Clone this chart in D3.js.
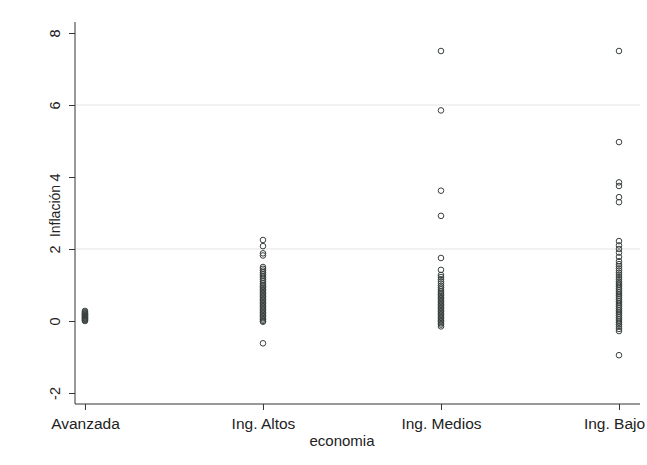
<!DOCTYPE html>
<html>
<head>
<meta charset="utf-8">
<script src="https://cdn.jsdelivr.net/npm/d3@7/dist/d3.min.js"></script>
<style>
  body { margin: 0; background: #fff; }
  text { font-family: "Liberation Sans", Arial, sans-serif; fill: #222; }
</style>
</head>
<body>
<div id="chart"></div>
<script>
// categories on the x axis
const categories = ['Avanzada', 'Ing. Altos', 'Ing. Medios', 'Ing. Bajo'];
const yTicks = [-2, 0, 2, 4, 6, 8];
const gridTicks = [2, 6];

const avanzada = [0.0, 0.02, 0.04, 0.06, 0.08, 0.1, 0.12, 0.14, 0.16, 0.18, 0.2, 0.22, 0.25, 0.28];
const ingAltos = [2.25, 2.08, 1.88, 1.82, 1.5, 1.45, 1.4, 1.35, 1.3, 1.25, 1.2, 1.15, 1.1, 1.05, 1.0,
  0.96, 0.92, 0.88, 0.84, 0.8, 0.76, 0.72, 0.68, 0.64, 0.6, 0.56, 0.52, 0.48, 0.44, 0.4, 0.36,
  0.32, 0.28, 0.24, 0.2, 0.16, 0.12, 0.08, 0.04, 0.0, -0.02, -0.62];
const ingMedios = [7.5, 5.85, 3.62, 2.92, 1.75, 1.42, 1.28, 1.22, 1.16, 1.1, 1.04, 0.98, 0.93, 0.88,
  0.83, 0.78, 0.74, 0.7, 0.66, 0.62, 0.58, 0.54, 0.5, 0.46, 0.42, 0.38, 0.34, 0.3, 0.26, 0.22,
  0.18, 0.14, 0.1, 0.06, 0.02, -0.02, -0.06, -0.1, -0.15];
const ingBajo = [7.5, 4.97, 3.85, 3.75, 3.44, 3.3, 2.22, 2.1, 2.0, 1.9, 1.78, 1.66, 1.58, 1.52, 1.46,
  1.4, 1.34, 1.28, 1.22, 1.16, 1.1, 1.05, 1.0, 0.95, 0.9, 0.85, 0.8, 0.75, 0.7, 0.65, 0.6, 0.55,
  0.5, 0.45, 0.4, 0.35, 0.3, 0.25, 0.2, 0.15, 0.1, 0.05, 0.0, -0.05, -0.1, -0.16, -0.22, -0.28, -0.95];
const series = [avanzada, ingAltos, ingMedios, ingBajo];

const W = 647, H = 465;
const svg = d3.select('#chart').append('svg')
  .attr('width', W).attr('height', H);

const x = d3.scaleLinear().domain([0.944, 4.118]).range([75, 640]);
const y = d3.scaleLinear().domain([-2.306, 8.306]).range([404, 22]);

// grid lines
svg.append('g').selectAll('line')
  .data(gridTicks).enter().append('line')
  .attr('x1', 76).attr('x2', 640)
  .attr('y1', d => y(d)).attr('y2', d => y(d))
  .attr('stroke', '#e4e4e4').attr('stroke-width', 1);

// y axis
const yAxis = d3.axisLeft(y).tickValues(yTicks).tickSize(6).tickPadding(0).tickFormat(d => String(d));
const gy = svg.append('g').attr('transform', 'translate(75,0)').call(yAxis);
gy.select('.domain').attr('d', 'M0,' + y.range()[1] + 'V' + y.range()[0]).attr('stroke', '#333');
gy.selectAll('.tick line').attr('stroke', '#333');
gy.selectAll('.tick text')
  .attr('transform', 'rotate(-90)')
  .attr('x', 0).attr('y', -20)
  .attr('dy', '0.35em')
  .style('text-anchor', 'middle')
  .style('font-size', '14.5px');

// x axis
const xAxis = d3.axisBottom(x).tickValues([1, 2, 3, 4]).tickSize(6).tickPadding(6)
  .tickFormat(d => categories[d - 1]);
const gx = svg.append('g').attr('transform', 'translate(0,404)').call(xAxis);
gx.select('.domain').attr('d', 'M75,0H640').attr('stroke', '#333');
gx.selectAll('.tick line').attr('stroke', '#333');
gx.selectAll('.tick text').style('font-size', '15.5px').attr('dy', '0.85em')
  .attr('dx', d => d === 4 ? -5 : 0);

// axis titles
svg.append('text').attr('x', 342).attr('y', 446)
  .style('text-anchor', 'middle').style('font-size', '15px').text('economia');
svg.append('text').attr('transform', 'translate(60,211) rotate(-90)')
  .style('text-anchor', 'middle').style('font-size', '14px').text('Inflación');

// points
const pts = [];
series.forEach((vals, i) => vals.forEach(v => pts.push({ c: i + 1, v: v })));
svg.append('g').selectAll('circle')
  .data(pts).enter().append('circle')
  .attr('cx', d => x(d.c))
  .attr('cy', d => y(d.v))
  .attr('r', 2.8)
  .attr('fill', 'none')
  .attr('stroke', '#3a4240')
  .attr('stroke-width', 1);
</script>
</body>
</html>
